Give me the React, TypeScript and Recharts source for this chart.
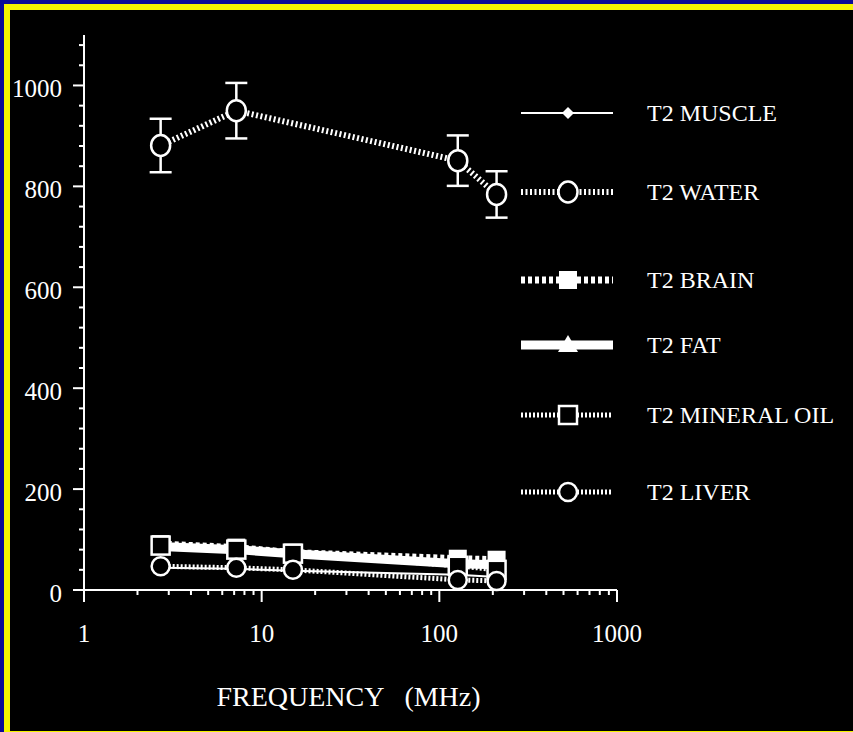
import { LineChart, Line, XAxis, YAxis, ErrorBar } from 'recharts'

// frequencies (MHz)
const FREQ = [2.7, 7.2, 15, 127, 210]
const WATER_FREQ = [2.7, 7.2, 127, 210]

// T2 values (ms)
const MUSCLE = [44, 42, 38, 30, 26]
const WATER = [881, 950, 851, 784]
const WATER_ERR = [53, 55, 50, 46]
const BRAIN = [91, 84, 74, 62, 60]
const FAT = [86, 80, 72, 52, 50]
const MINERAL_OIL = [88, 80, 72, 48, 40]
const LIVER = [47, 44, 40, 20, 18]

const X_TICKS = [1, 2, 3, 4, 5, 6, 7, 8, 9, 10, 20, 30, 40, 50, 60, 70, 80, 90, 100, 200, 300, 400, 500, 600, 700, 800, 900, 1000]
const X_LABELS = [1, 10, 100, 1000]
const Y_TICKS = [0, 40, 80, 120, 160, 200, 240, 280, 320, 360, 400, 440, 480, 520, 560, 600, 640, 680, 720, 760, 800, 840, 880, 920, 960, 1000, 1040, 1080]
const Y_LABELS = [0, 200, 400, 600, 800, 1000]

const LEGEND_NAMES = ['T2 MUSCLE', 'T2 WATER', 'T2 BRAIN', 'T2 FAT', 'T2 MINERAL OIL', 'T2 LIVER']

const FONT = '"Liberation Serif", "DejaVu Serif", serif'
const W = '#fff'

const toPoints = (xs: number[], ys: number[], errs?: number[]) =>
  xs.map((f, i) => ({ f, v: ys[i], e: errs ? errs[i] : 0 }))

function Marker({ kind, cx, cy }: { kind: string; cx: number; cy: number }) {
  switch (kind) {
    case 'diamond':
      return <path d={`M${cx},${cy - 6}L${cx + 6},${cy}L${cx},${cy + 6}L${cx - 6},${cy}Z`} fill={W} />
    case 'circle':
      return <circle cx={cx} cy={cy} r={9} fill="#000" stroke={W} strokeWidth={2.5} />
    case 'big-circle':
      return <ellipse cx={cx} cy={cy} rx={9.5} ry={10.5} fill="#000" stroke={W} strokeWidth={2.5} />
    case 'square':
      return <rect x={cx - 9} y={cy - 9} width={18} height={18} fill={W} />
    case 'open-square':
      return <rect x={cx - 9} y={cy - 9} width={18} height={18} fill="#000" stroke={W} strokeWidth={2.5} />
    case 'triangle':
      return <path d={`M${cx},${cy - 10}L${cx + 10},${cy + 7}L${cx - 10},${cy + 7}Z`} fill={W} />
  }
  return null
}

const dotOf = (kind: string) => (p: any) => (
  <Marker key={`${kind}-${p.index}`} kind={kind} cx={p.cx} cy={p.cy} />
)

function XTick(props: any) {
  const { x, y, payload } = props
  const major = X_LABELS.includes(payload.value)
  return (
    <g>
      <line x1={x} y1={y} x2={x} y2={y + (major ? 12 : 5)} stroke={W} strokeWidth={2} />
      {major && (
        <text x={x} y={y + 52} textAnchor="middle" fill={W} fontFamily={FONT} fontSize={25}>
          {payload.value}
        </text>
      )}
    </g>
  )
}

function YTick(props: any) {
  const { x, y, payload } = props
  const major = Y_LABELS.includes(payload.value)
  return (
    <g>
      <line x1={x} y1={y} x2={x - (major ? 11 : 5)} y2={y} stroke={W} strokeWidth={2} />
      {major && (
        <text x={x - 22} y={y + 12} textAnchor="end" fill={W} fontFamily={FONT} fontSize={25}>
          {payload.value}
        </text>
      )}
    </g>
  )
}

const LEGEND_STYLE = [
  { y: 113, kind: 'diamond', width: 2, dash: undefined },
  { y: 192, kind: 'big-circle', width: 6, dash: '2 2.5' },
  { y: 280, kind: 'square', width: 7, dash: '4 3' },
  { y: 345, kind: 'triangle', width: 9, dash: undefined },
  { y: 415, kind: 'open-square', width: 5, dash: '2 2' },
  { y: 492, kind: 'circle', width: 5, dash: '2 2' },
]

function ChartLegend() {
  return (
    <svg width={853} height={732} style={{ position: 'absolute', left: 0, top: 0 }}>
      {LEGEND_NAMES.map((name, i) => {
        const s = LEGEND_STYLE[i]
        return (
          <g key={name}>
            <line x1={521} y1={s.y} x2={613} y2={s.y} stroke={W} strokeWidth={s.width} strokeDasharray={s.dash} />
            <Marker kind={s.kind} cx={568} cy={s.y} />
            <text x={647} y={s.y + 8} fill={W} fontFamily={FONT} fontSize={24}>
              {name}
            </text>
          </g>
        )
      })}
    </svg>
  )
}

export default function App() {
  return (
    <div style={{ position: 'absolute', left: 0, top: 0, width: 853, height: 732, background: '#0a0a96', overflow: 'hidden' }}>
      <div style={{ position: 'absolute', left: 4, top: 4, right: 0, bottom: 0, background: '#f4f400' }} />
      <div style={{ position: 'absolute', left: 10, top: 10, width: 843, height: 721, background: '#000' }} />
      <div style={{ position: 'absolute', left: 0, top: 0 }}>
        <LineChart width={853} height={732} margin={{ top: 35, right: 236, bottom: 0, left: 10 }}>
          <XAxis
            type="number"
            dataKey="f"
            scale="log"
            domain={[1, 1000]}
            ticks={X_TICKS}
            interval={0}
            allowDataOverflow
            height={142}
            tick={XTick}
            tickLine={false}
            tickSize={0}
            tickMargin={0}
            axisLine={{ stroke: W, strokeWidth: 2 }}
            label={(p: any) => {
              const vb = p.viewBox
              return (
                <text
                  x={vb.x + vb.width / 2 - 2}
                  y={vb.y + 116}
                  textAnchor="middle"
                  fill={W}
                  fontFamily={FONT}
                  fontSize={28}
                  style={{ whiteSpace: 'pre' }}
                >
                  {'FREQUENCY   (MHz)'}
                </text>
              )
            }}
          />
          <YAxis
            type="number"
            domain={[0, 1100]}
            ticks={Y_TICKS}
            interval={0}
            width={74}
            tick={YTick}
            tickLine={false}
            tickSize={0}
            tickMargin={0}
            axisLine={{ stroke: W, strokeWidth: 2 }}
          />
          <Line data={toPoints(FREQ, MUSCLE)} dataKey="v" stroke={W} strokeWidth={2} dot={dotOf('diamond')} activeDot={false} isAnimationActive={false} />
          <Line data={toPoints(FREQ, BRAIN)} dataKey="v" stroke={W} strokeWidth={7} strokeDasharray="4 3" dot={dotOf('square')} activeDot={false} isAnimationActive={false} />
          <Line data={toPoints(FREQ, FAT)} dataKey="v" stroke={W} strokeWidth={9} dot={dotOf('triangle')} activeDot={false} isAnimationActive={false} />
          <Line data={toPoints(FREQ, MINERAL_OIL)} dataKey="v" stroke={W} strokeWidth={5} strokeDasharray="2 2" dot={dotOf('open-square')} activeDot={false} isAnimationActive={false} />
          <Line data={toPoints(FREQ, LIVER)} dataKey="v" stroke={W} strokeWidth={5} strokeDasharray="2 2" dot={dotOf('circle')} activeDot={false} isAnimationActive={false} />
          <Line data={toPoints(WATER_FREQ, WATER, WATER_ERR)} dataKey="v" stroke={W} strokeWidth={6} strokeDasharray="2 2.5" dot={dotOf('big-circle')} activeDot={false} isAnimationActive={false}>
            <ErrorBar dataKey="e" direction="y" width={11} strokeWidth={2.5} stroke={W} />
          </Line>
        </LineChart>
      </div>
      <ChartLegend />
    </div>
  )
}
